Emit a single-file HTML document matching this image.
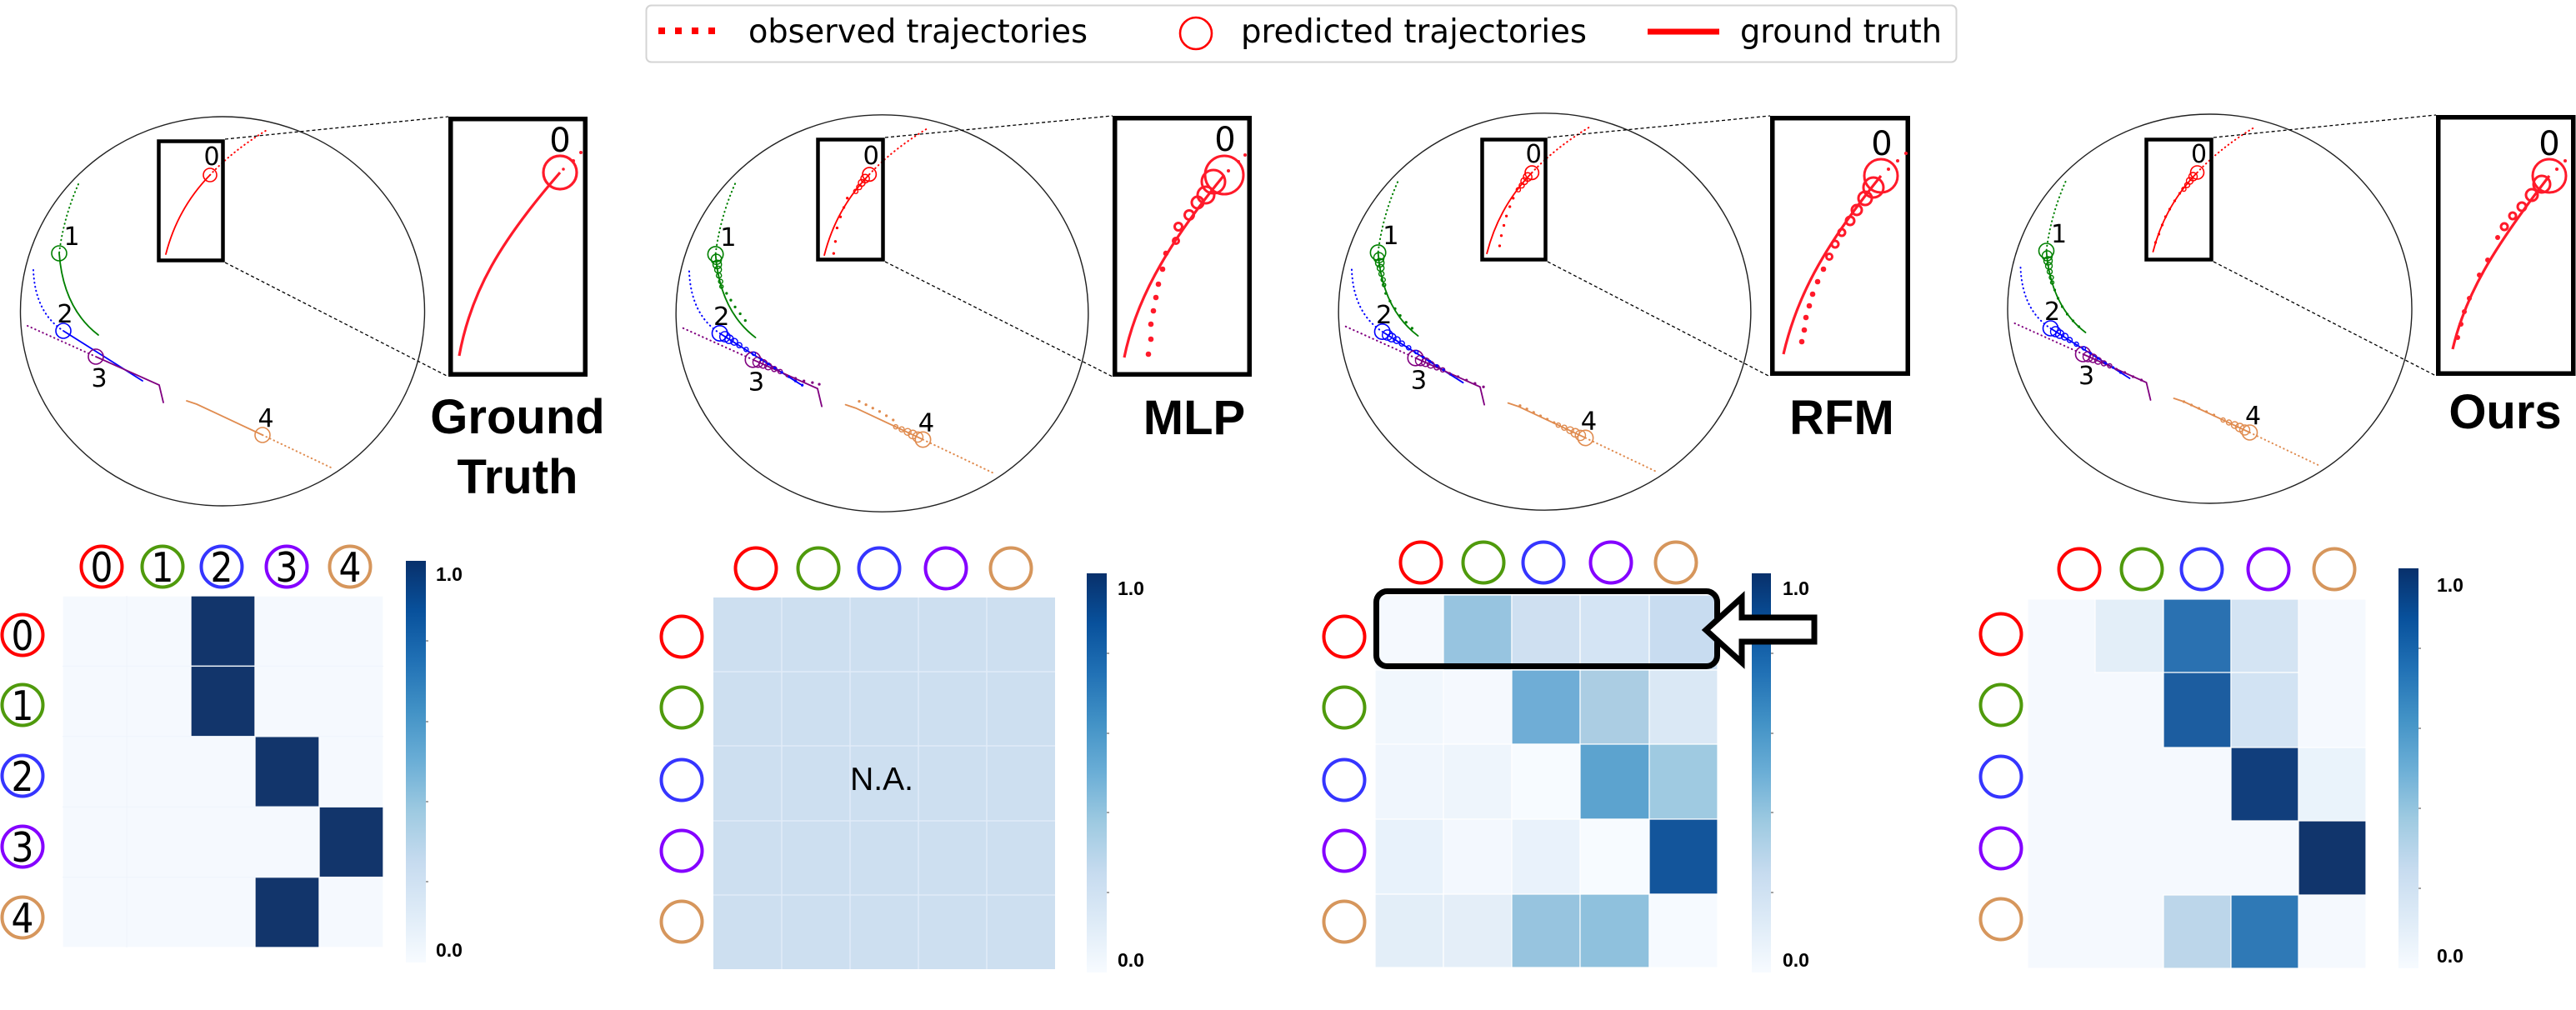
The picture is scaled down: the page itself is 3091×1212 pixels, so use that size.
<!DOCTYPE html>
<html><head><meta charset="utf-8"><style>
html,body{margin:0;padding:0;background:#fff;}
svg{display:block;}
.lg{font-family:"DejaVu Sans","Liberation Sans",sans-serif;font-size:39px;fill:#000;}
.ttl{font-family:"Liberation Sans",sans-serif;font-weight:bold;font-size:58px;fill:#000;text-anchor:middle;}
.lab{font-family:"DejaVu Sans","Liberation Sans",sans-serif;font-size:30px;fill:#000;text-anchor:middle;}
.ilab{font-family:"DejaVu Sans","Liberation Sans",sans-serif;font-size:40px;fill:#000;text-anchor:middle;}
.dig{font-family:"DejaVu Sans","Liberation Sans",sans-serif;font-size:49px;fill:#000;text-anchor:middle;}
.cb{font-family:"Liberation Sans",sans-serif;font-weight:bold;font-size:23px;fill:#000;}
.na{font-family:"Liberation Sans",sans-serif;font-size:39px;fill:#000;text-anchor:middle;}
</style></head><body>
<svg width="3091" height="1212" viewBox="0 0 3091 1212" xmlns="http://www.w3.org/2000/svg">
<defs>
<linearGradient id="blues" x1="0" y1="1" x2="0" y2="0">
<stop offset="0" stop-color="#f7fbff"/><stop offset="0.125" stop-color="#deebf7"/><stop offset="0.25" stop-color="#c6dbef"/><stop offset="0.375" stop-color="#9ecae1"/><stop offset="0.5" stop-color="#6baed6"/><stop offset="0.625" stop-color="#4292c6"/><stop offset="0.75" stop-color="#2171b5"/><stop offset="0.875" stop-color="#08519c"/><stop offset="1" stop-color="#08306b"/>
</linearGradient>
<g id="base" fill="none" stroke-linecap="round">
<ellipse cx="267" cy="373.5" rx="242.5" ry="233.5" stroke="#222" stroke-width="1.4"/>
<path d="M252,210 Q280,180 322,155" stroke="#ff0000" stroke-width="2" stroke-dasharray="0.5 4.5"/>
<path d="M252,210 Q213,250 199,305" stroke="#ff0000" stroke-width="1.8"/>
<circle cx="252" cy="210" r="8" stroke="#ff0000" stroke-width="1.6"/>
<path d="M94,221 Q76,262 71,304" stroke="#008000" stroke-width="2" stroke-dasharray="0.5 4.5"/>
<path d="M71,304 Q76,370 118,402" stroke="#008000" stroke-width="1.8"/>
<circle cx="71" cy="304" r="9" stroke="#008000" stroke-width="1.6"/>
<path d="M40,324 Q42,375 76,397" stroke="#0000ff" stroke-width="2" stroke-dasharray="0.5 4.5"/>
<path d="M76,397 L171,457" stroke="#0000ff" stroke-width="1.8"/>
<circle cx="76" cy="397" r="9" stroke="#0000ff" stroke-width="1.6"/>
<path d="M33,391 L115,428" stroke="#800080" stroke-width="2" stroke-dasharray="0.5 4.5"/>
<path d="M115,428 L191,462 L196,483" stroke="#800080" stroke-width="1.8"/>
<circle cx="115" cy="428" r="9" stroke="#800080" stroke-width="1.6"/>
<path d="M224,481 L236,485 L315,522" stroke="#e08c50" stroke-width="1.8"/>
<path d="M315,522 L397,561" stroke="#e08c50" stroke-width="2" stroke-dasharray="0.5 4.5"/>
<circle cx="315" cy="522" r="9" stroke="#e08c50" stroke-width="1.6"/>
</g>
<g id="pc" fill="none" stroke-width="1.4">
<g stroke="#ff0000"><circle cx="247" cy="215" r="5"/><circle cx="243" cy="220" r="4"/><circle cx="240" cy="225" r="3"/><circle cx="236" cy="230" r="2.5"/></g>
<g stroke="#008000"><circle cx="72" cy="310" r="6"/><circle cx="73" cy="316" r="5"/><circle cx="74" cy="322" r="4"/><circle cx="75" cy="329" r="3"/><circle cx="77" cy="336" r="2.5"/><circle cx="78" cy="342" r="2"/></g>
<g stroke="#0000ff"><circle cx="82" cy="401" r="6"/><circle cx="87" cy="404" r="5"/><circle cx="93" cy="407" r="4"/><circle cx="99" cy="411" r="3"/><circle cx="107" cy="416" r="2.5"/><circle cx="116" cy="421" r="2"/></g>
<g stroke="#800080"><circle cx="121" cy="431" r="6"/><circle cx="127" cy="433" r="5"/><circle cx="133" cy="436" r="4"/><circle cx="140" cy="439" r="3"/><circle cx="147" cy="442" r="2.5"/></g>
<g stroke="#e08c50"><circle cx="309" cy="519" r="6"/><circle cx="303" cy="516" r="5"/><circle cx="297" cy="513" r="4"/><circle cx="290" cy="510" r="3"/><circle cx="283" cy="507" r="2.5"/></g>
</g>
</defs>

<!-- Legend -->
<rect x="775.5" y="6.5" width="1572" height="68" rx="6" fill="#fff" stroke="#d4d4d4" stroke-width="2"/>
<g fill="#ff0000"><rect x="790" y="33" width="8" height="8"/><rect x="810" y="33" width="8" height="8"/><rect x="830" y="33" width="8" height="8"/><rect x="850" y="33" width="8" height="8"/></g>
<text class="lg" x="898" y="51" textLength="407" lengthAdjust="spacingAndGlyphs">observed trajectories</text>
<circle cx="1435" cy="40" r="19" fill="none" stroke="#ff0000" stroke-width="2.6"/>
<text class="lg" x="1489" y="51" textLength="415" lengthAdjust="spacingAndGlyphs">predicted trajectories</text>
<line x1="1977" y1="38" x2="2063" y2="38" stroke="#ff0000" stroke-width="7"/>
<text class="lg" x="2088" y="51" textLength="242" lengthAdjust="spacingAndGlyphs">ground truth</text>

<!-- ===== Panel 1: Ground Truth ===== -->
<use href="#base"/>
<g class="lab"><text x="254" y="198">0</text><text x="86" y="294">1</text><text x="78" y="387">2</text><text x="119" y="464">3</text><text x="319" y="512">4</text></g>
<rect x="190.5" y="169.5" width="77" height="143" fill="none" stroke="#000" stroke-width="4.5"/>
<g stroke="#000" stroke-width="1.3" stroke-dasharray="4 3"><line x1="270" y1="167" x2="538" y2="140"/><line x1="270" y1="315" x2="538" y2="452"/></g>
<rect x="540.75" y="142.75" width="161.5" height="306.5" fill="#fff" stroke="#000" stroke-width="5.5"/>
<path d="M551,427 C565,350 600,290 672,207" fill="none" stroke="#ff1a2a" stroke-width="3.2"/>
<circle cx="672" cy="207" r="20" fill="none" stroke="#ff1a2a" stroke-width="3.2"/>
<g fill="#ff1a2a"><circle cx="676" cy="203" r="1.8"/><circle cx="688" cy="193" r="2"/><circle cx="697" cy="183" r="2"/></g>
<text class="ilab" x="672" y="182">0</text>
<text class="ttl" x="621" y="520">Ground</text>
<text class="ttl" x="621" y="592">Truth</text>

<!-- GT heatmap -->
<g stroke="#fff" stroke-width="1.3">
<rect x="75" y="715" width="385" height="422" fill="#f5f9fe"/>
<rect x="229" y="715" width="77" height="84.4" fill="#12356b"/>
<rect x="229" y="799.4" width="77" height="84.4" fill="#12356b"/>
<rect x="306" y="883.8" width="77" height="84.4" fill="#12356b"/>
<rect x="383" y="968.2" width="77" height="84.4" fill="#12356b"/>
<rect x="306" y="1052.6" width="77" height="84.4" fill="#12356b"/>
</g>
<g stroke="#eef4fb" stroke-width="1"><line x1="152" y1="715" x2="152" y2="1137"/><line x1="75" y1="799.4" x2="460" y2="799.4"/><line x1="75" y1="883.8" x2="460" y2="883.8"/><line x1="75" y1="968.2" x2="460" y2="968.2"/><line x1="75" y1="1052.6" x2="460" y2="1052.6"/></g>
<g fill="none" stroke-width="4">
<circle cx="122" cy="680" r="24.5" stroke="#ff0000"/><circle cx="195" cy="680" r="24.5" stroke="#4f9a0c"/><circle cx="266" cy="680" r="24.5" stroke="#3535ff"/><circle cx="344" cy="680" r="24.5" stroke="#8400ff"/><circle cx="420" cy="680" r="24.5" stroke="#d6965c"/>
<circle cx="27" cy="762" r="24.5" stroke="#ff0000"/><circle cx="27" cy="846" r="24.5" stroke="#4f9a0c"/><circle cx="27" cy="931" r="24.5" stroke="#3535ff"/><circle cx="27" cy="1016" r="24.5" stroke="#8400ff"/><circle cx="27" cy="1101" r="24.5" stroke="#d6965c"/>
</g>
<g class="dig"><text x="122" y="698" textLength="27" lengthAdjust="spacingAndGlyphs">0</text><text x="195" y="698" textLength="27" lengthAdjust="spacingAndGlyphs">1</text><text x="266" y="698" textLength="27" lengthAdjust="spacingAndGlyphs">2</text><text x="344" y="698" textLength="27" lengthAdjust="spacingAndGlyphs">3</text><text x="420" y="698" textLength="27" lengthAdjust="spacingAndGlyphs">4</text>
<text x="27" y="780" textLength="27" lengthAdjust="spacingAndGlyphs">0</text><text x="27" y="864" textLength="27" lengthAdjust="spacingAndGlyphs">1</text><text x="27" y="949" textLength="27" lengthAdjust="spacingAndGlyphs">2</text><text x="27" y="1034" textLength="27" lengthAdjust="spacingAndGlyphs">3</text><text x="27" y="1119" textLength="27" lengthAdjust="spacingAndGlyphs">4</text></g>
<rect x="487" y="673" width="24" height="482" fill="url(#blues)"/>
<g stroke="#666" stroke-width="1.2"><line x1="511" y1="769" x2="514" y2="769"/><line x1="511" y1="866" x2="514" y2="866"/><line x1="511" y1="962" x2="514" y2="962"/><line x1="511" y1="1058" x2="514" y2="1058"/></g>
<text class="cb" x="523" y="697">1.0</text><text class="cb" x="523" y="1148">0.0</text>

<!-- ===== Panel 2: MLP ===== -->
<g transform="translate(1058.5,376) scale(1.02) translate(-267,-373.5)">
<use href="#base"/><use href="#pc"/>
<g fill="#ff0000"><circle cx="226" cy="238" r="1.6"/><circle cx="222" cy="249" r="1.6"/><circle cx="218" cy="260" r="1.6"/><circle cx="214" cy="273" r="1.6"/><circle cx="212" cy="289" r="1.6"/><circle cx="210" cy="303" r="1.6"/></g>
<g fill="#008000"><circle cx="84" cy="350" r="1.6"/><circle cx="89" cy="358" r="1.6"/><circle cx="94" cy="366" r="1.6"/><circle cx="100" cy="374" r="1.6"/><circle cx="106" cy="382" r="1.6"/></g>
<g fill="#0000ff"><circle cx="125" cy="428" r="1.6"/><circle cx="133" cy="433" r="1.6"/><circle cx="141" cy="438" r="1.6"/><circle cx="149" cy="443" r="1.6"/><circle cx="157" cy="448" r="1.6"/><circle cx="165" cy="453" r="1.6"/><circle cx="173" cy="458" r="1.6"/></g>
<g fill="#800080"><circle cx="155" cy="447" r="1.6"/><circle cx="165" cy="450" r="1.6"/><circle cx="175" cy="453" r="1.6"/><circle cx="185" cy="455" r="1.6"/><circle cx="193" cy="457" r="1.6"/></g>
<g fill="#e08c50"><circle cx="240" cy="477" r="1.6"/><circle cx="248" cy="481" r="1.6"/><circle cx="256" cy="485" r="1.6"/><circle cx="264" cy="489" r="1.6"/><circle cx="272" cy="494" r="1.6"/><circle cx="280" cy="499" r="1.6"/></g>
<g class="lab"><text x="254" y="198">0</text><text x="86" y="294">1</text><text x="78" y="387">2</text><text x="119" y="464">3</text><text x="319" y="512">4</text></g>
</g>
<rect x="981.5" y="167.5" width="78" height="144" fill="none" stroke="#000" stroke-width="4.5"/>
<g stroke="#000" stroke-width="1.3" stroke-dasharray="4 3"><line x1="1062" y1="165" x2="1335" y2="139"/><line x1="1062" y1="314" x2="1335" y2="452"/></g>
<rect x="1337.75" y="141.75" width="161.5" height="307.5" fill="#fff" stroke="#000" stroke-width="5.5"/>
<path d="M1349,429 C1362,365 1395,300 1469,210" fill="none" stroke="#ff1a2a" stroke-width="3.2"/>
<g fill="none" stroke="#ff1a2a" stroke-width="3"><circle cx="1469" cy="210" r="23"/><circle cx="1456" cy="218" r="14"/><circle cx="1447" cy="234" r="10"/><circle cx="1437" cy="243" r="7"/><circle cx="1427" cy="258" r="5.5"/><circle cx="1414" cy="272" r="4.5"/><circle cx="1411" cy="289" r="3.5"/></g>
<g fill="#ff1a2a"><circle cx="1378" cy="425" r="3.3"/><circle cx="1381" cy="407" r="3.3"/><circle cx="1381" cy="389" r="3.3"/><circle cx="1384" cy="373" r="3.3"/><circle cx="1387" cy="357" r="3.3"/><circle cx="1390" cy="341" r="3.3"/><circle cx="1395" cy="323" r="3.3"/><circle cx="1399" cy="304" r="3.3"/><circle cx="1474" cy="205" r="2"/><circle cx="1486" cy="194" r="2"/><circle cx="1494" cy="186" r="2"/></g>
<text class="ilab" x="1470" y="181">0</text>
<text class="ttl" x="1433" y="521">MLP</text>

<!-- MLP heatmap -->
<rect x="856" y="717" width="410" height="446" fill="#cddff0"/>
<g stroke="#e2ecf7" stroke-width="1.5"><line x1="938" y1="717" x2="938" y2="1163"/><line x1="1020" y1="717" x2="1020" y2="1163"/><line x1="1102" y1="717" x2="1102" y2="1163"/><line x1="1184" y1="717" x2="1184" y2="1163"/>
<line x1="856" y1="806" x2="1266" y2="806"/><line x1="856" y1="895" x2="1266" y2="895"/><line x1="856" y1="985" x2="1266" y2="985"/><line x1="856" y1="1074" x2="1266" y2="1074"/></g>
<text class="na" x="1058" y="948">N.A.</text>
<g fill="none" stroke-width="4">
<circle cx="907" cy="682" r="24.5" stroke="#ff0000"/><circle cx="982" cy="682" r="24.5" stroke="#4f9a0c"/><circle cx="1055" cy="682" r="24.5" stroke="#3535ff"/><circle cx="1135" cy="682" r="24.5" stroke="#8400ff"/><circle cx="1213" cy="682" r="24.5" stroke="#d6965c"/>
<circle cx="818" cy="764" r="24.5" stroke="#ff0000"/><circle cx="818" cy="849" r="24.5" stroke="#4f9a0c"/><circle cx="818" cy="936" r="24.5" stroke="#3535ff"/><circle cx="818" cy="1021" r="24.5" stroke="#8400ff"/><circle cx="818" cy="1106" r="24.5" stroke="#d6965c"/>
</g>
<rect x="1304" y="688" width="24" height="479" fill="url(#blues)"/>
<g stroke="#666" stroke-width="1.2"><line x1="1328" y1="784" x2="1331" y2="784"/><line x1="1328" y1="880" x2="1331" y2="880"/><line x1="1328" y1="975" x2="1331" y2="975"/><line x1="1328" y1="1071" x2="1331" y2="1071"/></g>
<text class="cb" x="1341" y="714">1.0</text><text class="cb" x="1341" y="1160">0.0</text>

<!-- ===== Panel 3: RFM ===== -->
<g transform="translate(1853.5,374) scale(1.02) translate(-267,-373.5)">
<use href="#base"/><use href="#pc"/>
<g fill="#ff0000"><circle cx="230" cy="240" r="1.6"/><circle cx="226" cy="250" r="1.6"/><circle cx="222" cy="261" r="1.6"/><circle cx="219" cy="272" r="1.6"/><circle cx="216" cy="284" r="1.6"/><circle cx="214" cy="296" r="1.6"/></g>
<g fill="#008000"><circle cx="80" cy="352" r="1.6"/><circle cx="85" cy="361" r="1.6"/><circle cx="91" cy="370" r="1.6"/><circle cx="97" cy="378" r="1.6"/><circle cx="104" cy="386" r="1.6"/><circle cx="111" cy="393" r="1.6"/></g>
<g fill="#0000ff"><circle cx="124" cy="427" r="1.6"/><circle cx="132" cy="432" r="1.6"/><circle cx="140" cy="437" r="1.6"/><circle cx="148" cy="442" r="1.6"/><circle cx="156" cy="447" r="1.6"/></g>
<g fill="#800080"><circle cx="155" cy="446" r="1.6"/><circle cx="165" cy="450" r="1.6"/><circle cx="175" cy="454" r="1.6"/><circle cx="185" cy="458" r="1.6"/><circle cx="195" cy="462" r="1.6"/></g>
<g fill="#e08c50"><circle cx="238" cy="484" r="1.6"/><circle cx="246" cy="488" r="1.6"/><circle cx="254" cy="492" r="1.6"/><circle cx="262" cy="496" r="1.6"/><circle cx="270" cy="500" r="1.6"/><circle cx="278" cy="504" r="1.6"/></g>
<g class="lab"><text x="254" y="198">0</text><text x="86" y="294">1</text><text x="78" y="387">2</text><text x="119" y="464">3</text><text x="319" y="512">4</text></g>
</g>
<rect x="1778.5" y="167.5" width="76" height="144" fill="none" stroke="#000" stroke-width="4.5"/>
<g stroke="#000" stroke-width="1.3" stroke-dasharray="4 3"><line x1="1857" y1="165" x2="2124" y2="139"/><line x1="1857" y1="314" x2="2124" y2="452"/></g>
<rect x="2126.75" y="141.75" width="162.5" height="306.5" fill="#fff" stroke="#000" stroke-width="5.5"/>
<path d="M2140,425 C2155,360 2185,300 2257,211" fill="none" stroke="#ff1a2a" stroke-width="3.2"/>
<g fill="none" stroke="#ff1a2a" stroke-width="3"><circle cx="2257" cy="211" r="20"/><circle cx="2248" cy="225" r="12"/><circle cx="2238" cy="238" r="8"/><circle cx="2228" cy="252" r="6"/><circle cx="2220" cy="265" r="5"/><circle cx="2210" cy="279" r="4"/><circle cx="2202" cy="293" r="4"/><circle cx="2195" cy="308" r="3.5"/></g>
<g fill="#ff1a2a"><circle cx="2188" cy="323" r="3.3"/><circle cx="2181" cy="338" r="3.3"/><circle cx="2175" cy="353" r="3.3"/><circle cx="2171" cy="367" r="3.3"/><circle cx="2167" cy="381" r="3.3"/><circle cx="2165" cy="396" r="3.3"/><circle cx="2162" cy="410" r="3.3"/><circle cx="2266" cy="203" r="2"/><circle cx="2277" cy="193" r="2"/><circle cx="2287" cy="184" r="2"/></g>
<text class="ilab" x="2258" y="186">0</text>
<text class="ttl" x="2210" y="521">RFM</text>

<!-- RFM heatmap -->
<g stroke="#fff" stroke-width="1.2">
<rect x="1650" y="714" width="82" height="90" fill="#f5f9fe"/><rect x="1732" y="714" width="82" height="90" fill="#97c4e0"/><rect x="1814" y="714" width="82" height="90" fill="#cfe0f1"/><rect x="1896" y="714" width="83" height="90" fill="#d4e4f4"/><rect x="1979" y="714" width="82" height="90" fill="#c8dcf0"/>
<rect x="1650" y="804" width="82" height="89" fill="#f1f7fd"/><rect x="1732" y="804" width="82" height="89" fill="#f5f9fe"/><rect x="1814" y="804" width="82" height="89" fill="#6fadd6"/><rect x="1896" y="804" width="83" height="89" fill="#abcde3"/><rect x="1979" y="804" width="82" height="89" fill="#dae8f5"/>
<rect x="1650" y="893" width="82" height="90" fill="#f0f6fd"/><rect x="1732" y="893" width="82" height="90" fill="#eef5fc"/><rect x="1814" y="893" width="82" height="90" fill="#f7fbff"/><rect x="1896" y="893" width="83" height="90" fill="#5ca3cf"/><rect x="1979" y="893" width="82" height="90" fill="#9fcae1"/>
<rect x="1650" y="983" width="82" height="90" fill="#e8f2fb"/><rect x="1732" y="983" width="82" height="90" fill="#f3f8fe"/><rect x="1814" y="983" width="82" height="90" fill="#e9f2fb"/><rect x="1896" y="983" width="83" height="90" fill="#f7fbff"/><rect x="1979" y="983" width="82" height="90" fill="#13559b"/>
<rect x="1650" y="1073" width="82" height="88" fill="#e3eef8"/><rect x="1732" y="1073" width="82" height="88" fill="#e4eef8"/><rect x="1814" y="1073" width="82" height="88" fill="#97c4df"/><rect x="1896" y="1073" width="83" height="88" fill="#8fc1dd"/><rect x="1979" y="1073" width="82" height="88" fill="#f6faff"/>
</g>
<g fill="none" stroke-width="4">
<circle cx="1705" cy="675" r="24.5" stroke="#ff0000"/><circle cx="1780" cy="675" r="24.5" stroke="#4f9a0c"/><circle cx="1852" cy="675" r="24.5" stroke="#3535ff"/><circle cx="1933" cy="675" r="24.5" stroke="#8400ff"/><circle cx="2011" cy="675" r="24.5" stroke="#d6965c"/>
<circle cx="1613" cy="764" r="24.5" stroke="#ff0000"/><circle cx="1613" cy="849" r="24.5" stroke="#4f9a0c"/><circle cx="1613" cy="936" r="24.5" stroke="#3535ff"/><circle cx="1613" cy="1021" r="24.5" stroke="#8400ff"/><circle cx="1613" cy="1106" r="24.5" stroke="#d6965c"/>
</g>
<rect x="2102" y="688" width="23" height="479" fill="url(#blues)"/>
<g stroke="#666" stroke-width="1.2"><line x1="2125" y1="784" x2="2128" y2="784"/><line x1="2125" y1="880" x2="2128" y2="880"/><line x1="2125" y1="975" x2="2128" y2="975"/><line x1="2125" y1="1071" x2="2128" y2="1071"/></g>
<text class="cb" x="2139" y="714">1.0</text><text class="cb" x="2139" y="1160">0.0</text>
<rect x="1651.5" y="709.5" width="409" height="90" rx="13" fill="none" stroke="#000" stroke-width="7"/>
<polygon points="2047,756 2090,717 2090,741 2177,741 2177,770 2090,770 2090,795" fill="#fff" stroke="#000" stroke-width="7" stroke-linejoin="miter"/>

<!-- ===== Panel 4: Ours ===== -->
<g transform="translate(2651.5,370.5) translate(-267,-373.5)">
<use href="#base"/><use href="#pc"/>
<g fill="#ff0000"><circle cx="231" cy="235" r="1.6"/><circle cx="225" cy="244" r="1.6"/><circle cx="219" cy="254" r="1.6"/><circle cx="214" cy="263" r="1.6"/><circle cx="210" cy="273" r="1.6"/><circle cx="206" cy="284" r="1.6"/><circle cx="202" cy="294" r="1.6"/></g>
<g fill="#008000"><circle cx="81" cy="351" r="1.6"/><circle cx="85" cy="361" r="1.6"/><circle cx="90" cy="371" r="1.6"/><circle cx="96" cy="380" r="1.6"/><circle cx="103" cy="388" r="1.6"/><circle cx="110" cy="395" r="1.6"/></g>
<g fill="#0000ff"><circle cx="124" cy="427" r="1.6"/><circle cx="133" cy="433" r="1.6"/><circle cx="142" cy="439" r="1.6"/><circle cx="151" cy="444" r="1.6"/><circle cx="160" cy="450" r="1.6"/></g>
<g fill="#800080"><circle cx="155" cy="446" r="1.6"/><circle cx="165" cy="450" r="1.6"/><circle cx="175" cy="455" r="1.6"/><circle cx="185" cy="459" r="1.6"/></g>
<g fill="#e08c50"><circle cx="236" cy="485" r="1.6"/><circle cx="245" cy="489" r="1.6"/><circle cx="254" cy="493" r="1.6"/><circle cx="263" cy="497" r="1.6"/><circle cx="272" cy="501" r="1.6"/></g>
<g class="lab"><text x="254" y="198">0</text><text x="86" y="294">1</text><text x="78" y="387">2</text><text x="119" y="464">3</text><text x="319" y="512">4</text></g>
</g>
<rect x="2575.5" y="167.5" width="78" height="144" fill="none" stroke="#000" stroke-width="4.5"/>
<g stroke="#000" stroke-width="1.3" stroke-dasharray="4 3"><line x1="2656" y1="165" x2="2923" y2="138"/><line x1="2656" y1="314" x2="2923" y2="451"/></g>
<rect x="2925.75" y="140.75" width="162" height="307.5" fill="#fff" stroke="#000" stroke-width="5.5"/>
<path d="M2943,419 C2958,355 2990,300 3059,211" fill="none" stroke="#ff1a2a" stroke-width="3.2"/>
<g fill="none" stroke="#ff1a2a" stroke-width="3"><circle cx="3059" cy="211" r="20"/><circle cx="3050" cy="221" r="10"/><circle cx="3038" cy="234" r="7"/><circle cx="3026" cy="248" r="5"/><circle cx="3015" cy="259" r="4"/><circle cx="3005" cy="272" r="4"/></g>
<g fill="#ff1a2a"><circle cx="2997" cy="285" r="3"/><circle cx="2985" cy="312" r="3"/><circle cx="2975" cy="330" r="3"/><circle cx="2963" cy="358" r="3"/><circle cx="2957" cy="374" r="3"/><circle cx="2953" cy="389" r="3"/><circle cx="2949" cy="405" r="3"/><circle cx="3068" cy="203" r="2"/><circle cx="3078" cy="193" r="2"/></g>
<text class="ilab" x="3059" y="186">0</text>
<text class="ttl" x="3006" y="514">Ours</text>

<!-- Ours heatmap -->
<g stroke="#fff" stroke-width="1.2">
<rect x="2433" y="719" width="406" height="443" fill="#f5f9fe"/>
<rect x="2514" y="719" width="82" height="88" fill="#e3eef8"/><rect x="2596" y="719" width="81" height="88" fill="#2a71b1"/><rect x="2677" y="719" width="81" height="88" fill="#d4e4f3"/>
<rect x="2596" y="807" width="81" height="90" fill="#1c5da0"/><rect x="2677" y="807" width="81" height="90" fill="#d2e3f3"/>
<rect x="2677" y="897" width="81" height="88" fill="#113e7c"/><rect x="2758" y="897" width="81" height="88" fill="#eaf3fb"/>
<rect x="2758" y="985" width="81" height="89" fill="#11356c"/>
<rect x="2596" y="1074" width="81" height="88" fill="#bcd6ea"/><rect x="2677" y="1074" width="81" height="88" fill="#2f79b6"/>
</g>
<g fill="none" stroke-width="4">
<circle cx="2495" cy="683" r="24.5" stroke="#ff0000"/><circle cx="2570" cy="683" r="24.5" stroke="#4f9a0c"/><circle cx="2642" cy="683" r="24.5" stroke="#3535ff"/><circle cx="2722" cy="683" r="24.5" stroke="#8400ff"/><circle cx="2801" cy="683" r="24.5" stroke="#d6965c"/>
<circle cx="2401" cy="761" r="24.5" stroke="#ff0000"/><circle cx="2401" cy="846" r="24.5" stroke="#4f9a0c"/><circle cx="2401" cy="932" r="24.5" stroke="#3535ff"/><circle cx="2401" cy="1018" r="24.5" stroke="#8400ff"/><circle cx="2401" cy="1103" r="24.5" stroke="#d6965c"/>
</g>
<rect x="2878" y="682" width="24" height="480" fill="url(#blues)"/>
<g stroke="#666" stroke-width="1.2"><line x1="2902" y1="778" x2="2905" y2="778"/><line x1="2902" y1="874" x2="2905" y2="874"/><line x1="2902" y1="970" x2="2905" y2="970"/><line x1="2902" y1="1066" x2="2905" y2="1066"/></g>
<text class="cb" x="2924" y="710">1.0</text><text class="cb" x="2924" y="1155">0.0</text>
</svg>
</body></html>
